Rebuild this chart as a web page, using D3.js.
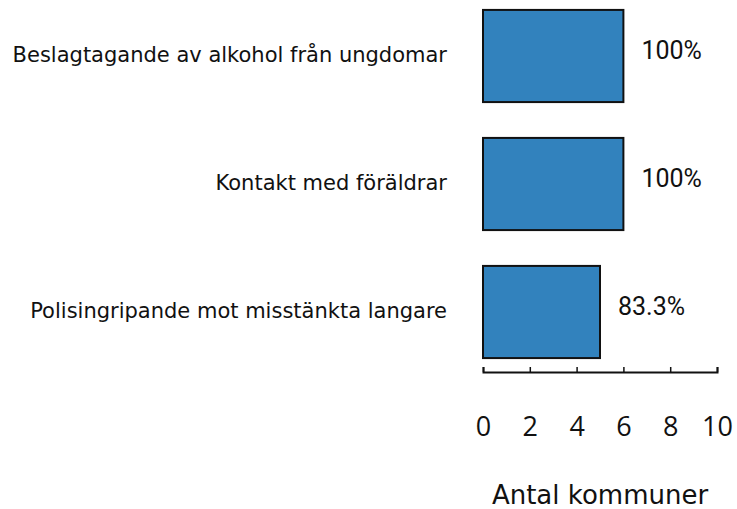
<!DOCTYPE html>
<html>
<head>
<meta charset="utf-8">
<script src="https://cdn.jsdelivr.net/npm/d3@7"></script>
<style>
  html, body { margin: 0; padding: 0; background: #fff; }
  svg { display: block; }
</style>
</head>
<body>
<svg id="chart" width="737" height="509"></svg>
<script>
// Åtgärder och antal kommuner som genomfört dem
const categories = [
  "Beslagtagande av alkohol från ungdomar",
  "Kontakt med föräldrar",
  "Polisingripande mot misstänkta langare"
];
const counts = [6, 6, 5];
const percentLabels = ["100%", "100%", "83.3%"];
const xTicks = [0, 2, 4, 6, 8, 10];
const xTitle = "Antal kommuner";

const svg = d3.select("#chart");

const x = d3.scaleLinear().domain([0, 10]).range([483, 717]);
const y = d3.scaleBand()
  .domain(categories)
  .range([-8, 376])
  .paddingInner(0.28)
  .paddingOuter(0.14);

const labelFont = "'DejaVu Sans', Verdana, sans-serif";
const tickFont = "'Open Sans', 'Noto Sans', sans-serif";
const valueFont = "Roboto, 'Noto Sans', sans-serif";
const ink = "#111";

// Staplar
svg.append("g")
  .selectAll("rect")
  .data(categories)
  .join("rect")
  .attr("x", x(0))
  .attr("y", d => y(d))
  .attr("width", (d, i) => x(counts[i]) - x(0))
  .attr("height", y.bandwidth())
  .attr("fill", "#3282bd")
  .attr("stroke", ink)
  .attr("stroke-width", 2);

// Kategorietiketter
svg.append("g")
  .selectAll("text")
  .data(categories)
  .join("text")
  .attr("x", 447)
  .attr("y", d => y(d) + y.bandwidth() / 2 + 5.5)
  .attr("text-anchor", "end")
  .attr("font-family", labelFont)
  .attr("font-size", 21)
  .attr("fill", ink)
  .text(d => d);

// Procentetiketter
svg.append("g")
  .selectAll("text")
  .data(categories)
  .join("text")
  .attr("x", (d, i) => x(counts[i]) + 18)
  .attr("y", d => y(d) + y.bandwidth() / 2 + 2.5)
  .attr("font-family", valueFont)
  .attr("font-size", 25)
  .attr("fill", ink)
  .text((d, i) => percentLabels[i]);

// x-axel med uppåtriktade streck
const axis = d3.axisBottom(x)
  .tickValues(xTicks)
  .tickFormat(d3.format("d"))
  .tickSizeInner(-5)
  .tickSizeOuter(-5)
  .tickPadding(0);

const gx = svg.append("g")
  .attr("transform", "translate(0,372)")
  .call(axis);
gx.select(".domain").attr("stroke", ink).attr("stroke-width", 2);
gx.selectAll(".tick line").attr("stroke", ink).attr("stroke-width", 1.5);
gx.selectAll(".tick text")
  .attr("y", 64)
  .attr("dy", null)
  .attr("font-family", tickFont)
  .attr("font-size", 27)
  .attr("fill", ink);

svg.append("text")
  .attr("x", x(5))
  .attr("y", 504)
  .attr("text-anchor", "middle")
  .attr("font-family", labelFont)
  .attr("font-size", 26)
  .attr("fill", ink)
  .text(xTitle);
</script>
</body>
</html>
